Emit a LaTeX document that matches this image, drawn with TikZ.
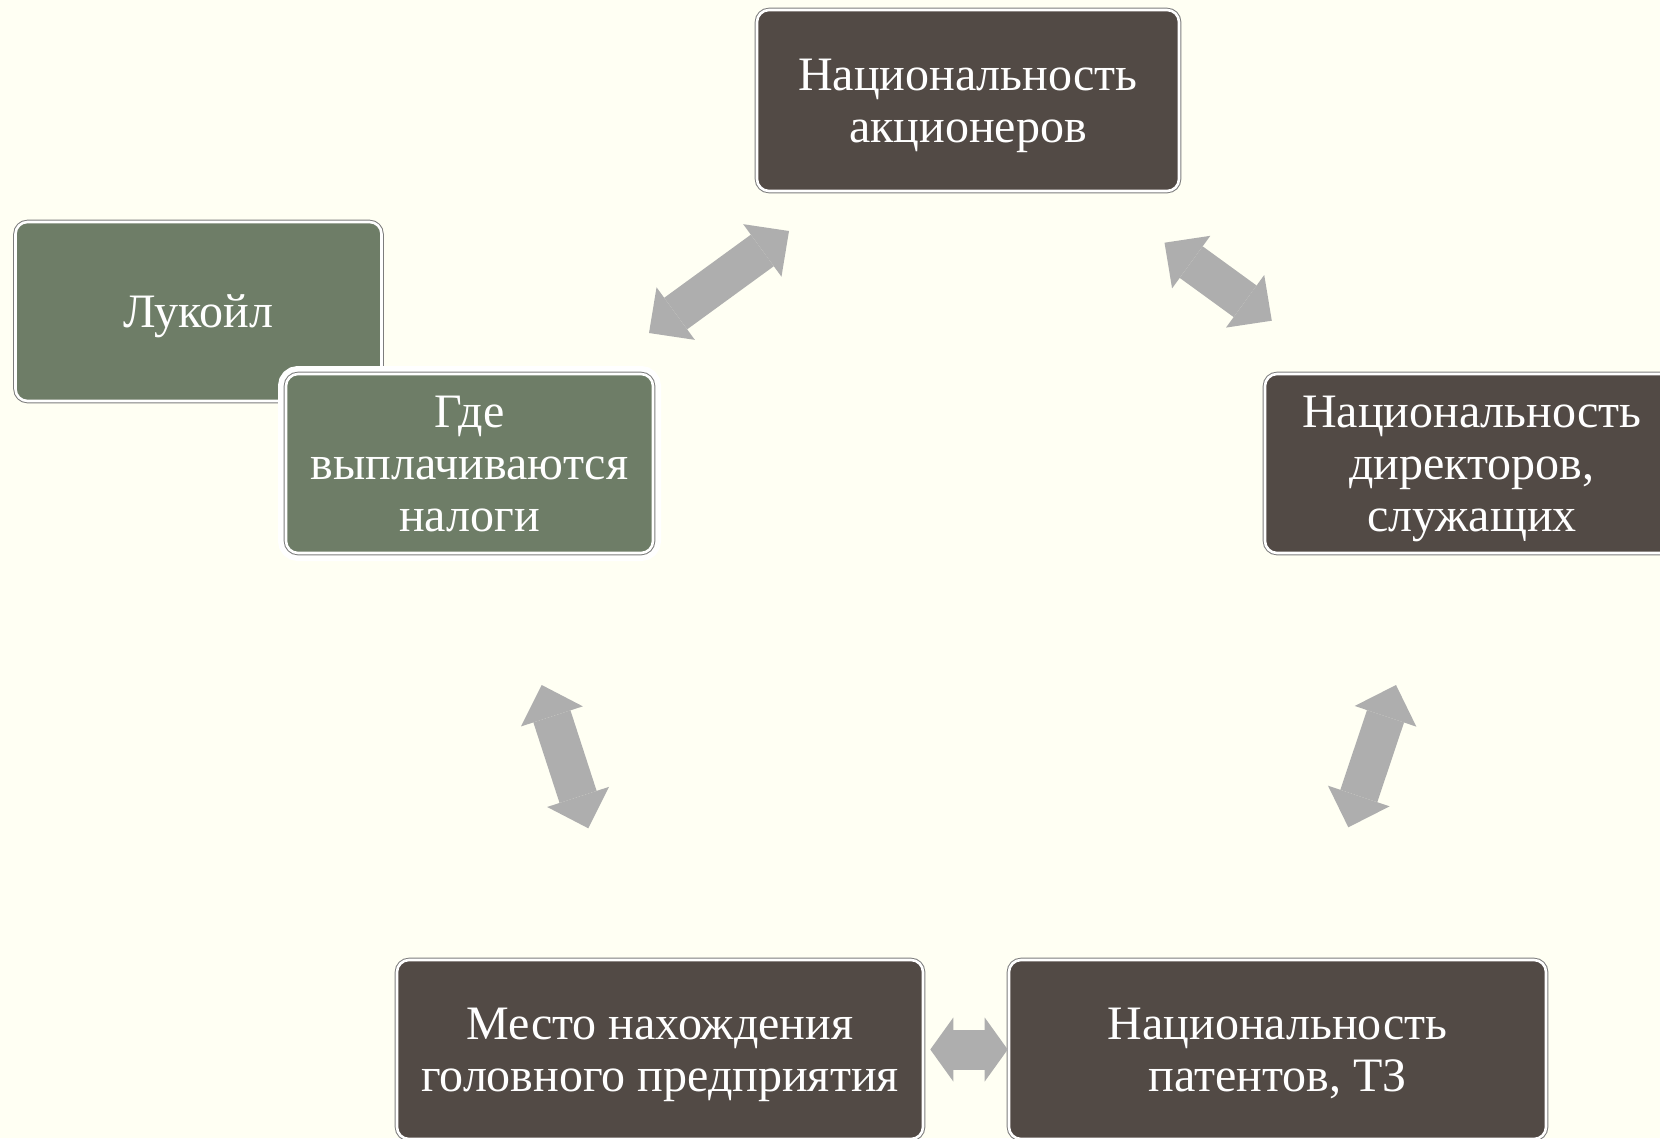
\documentclass[tikz,border=0pt]{standalone}
\usepackage{fontspec}
\setmainfont{Liberation Serif}
\usetikzlibrary{arrows.meta}

\definecolor{fond}{RGB}{255,255,243}
\definecolor{brun}{RGB}{82,74,69}
\definecolor{vert}{RGB}{110,125,103}
\definecolor{gris}{RGB}{174,174,174}
\definecolor{bord}{RGB}{125,125,125}

% hauteur fixe de la première ligne
\newcommand{\haut}{\rule{0pt}{43pt}}

\tikzset{
	boite/.style={rectangle, rounded corners=12pt, draw=white, line width=2.6pt,
		preaction={draw=bord, line width=4.6pt},
		text=white, align=center, inner sep=0pt,
		font=\fontsize{48}{52}\selectfont,
		execute at end node={\rule[-11pt]{0pt}{11pt}}},
	boitebrune/.style={boite, fill=brun},
	boiteverte/.style={boite, fill=vert},
	halo/.style={preaction={draw=white, line width=16pt}},
	fleche/.style={draw=gris, line width=39pt,
		{Triangle[length=33pt,width=65pt,line width=0pt]}-{Triangle[length=33pt,width=65pt,line width=0pt]}},
	flechecourte/.style={draw=gris, line width=40pt,
		{Triangle[length=23pt,width=64pt,line width=0pt]}-{Triangle[length=23pt,width=64pt,line width=0pt]}}
}

\begin{document}
\begin{tikzpicture}[x=1pt,y=-1pt]

		% fond de la diapositive
		\useasboundingbox[fill=fond] (0,0) rectangle (1660,1138);
		\clip (0,0) rectangle (1660,1138);

		% Lukoil et les impôts (boîtes vertes)
		\node[boiteverte, minimum width=366pt, minimum height=179pt] (lukoil) at (198.5,311.5) {\haut Лукойл};
		\node[halo, boiteverte, minimum width=367pt, minimum height=179pt] (impots) at (469.5,463.5) {\haut Где\\выплачиваются\\налоги};

		% Critères (boîtes brunes)
		\node[boitebrune, minimum width=422pt, minimum height=181pt] (actionnaires) at (968,100.5) {\haut Национальность\\акционеров};
		\node[boitebrune, minimum width=414pt, minimum height=179pt] (directeurs) at (1472,463.5) {\haut Национальность\\директоров,\\служащих};
		\node[boitebrune, minimum width=526pt, minimum height=179pt] (siege) at (660,1049.5) {\haut Место нахождения\\головного предприятия};
		\node[boitebrune, minimum width=537pt, minimum height=179pt] (brevets) at (1277.5,1049.5) {\haut Национальность\\патентов, ТЗ};

		% Extrémités des flèches
		\coordinate (f1a) at (649,333);
		\coordinate (f1b) at (789,231);
		\coordinate (f2a) at (1164.5,242.7);
		\coordinate (f2b) at (1271.8,320.7);
		\coordinate (f3a) at (1396,685);
		\coordinate (f3b) at (1348.3,827.3);
		\coordinate (f4a) at (541.7,685);
		\coordinate (f4b) at (588.3,828.3);

		% Flèches doubles
		\draw[fleche] (f1a) -- (f1b);  % impôts <-> actionnaires
		\draw[fleche] (f2a) -- (f2b);  % actionnaires <-> directeurs
		\draw[fleche] (f3a) -- (f3b);  % directeurs <-> brevets
		\draw[fleche] (f4a) -- (f4b);  % impôts <-> siège
		\draw[flechecourte, shorten <=6pt] (siege) -- (brevets); % siège <-> brevets

	\end{tikzpicture}
\end{document}
